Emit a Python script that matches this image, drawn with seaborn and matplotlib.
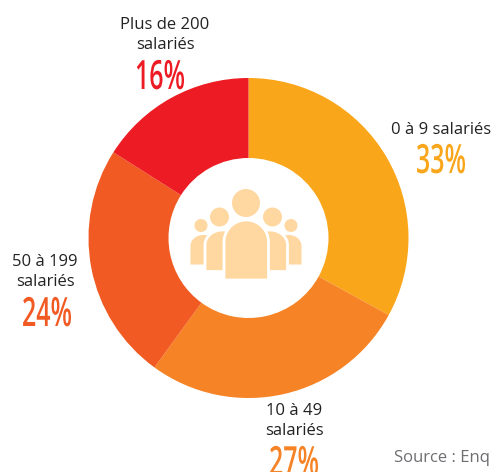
import numpy as np
import seaborn as sns
import matplotlib.pyplot as plt
import matplotlib.patheffects as pe
from matplotlib.patches import Circle, Polygon
from matplotlib.transforms import Affine2D

categories = ["0 à 9\u00a0salariés", "10 à 49\nsalariés", "50 à 199\nsalariés", "Plus de 200\nsalariés"]
shares = [33, 27, 24, 16]
share_labels = ["33%", "27%", "24%", "16%"]
colors = ["#FAA61A", "#F68325", "#F15A22", "#ED1C24"]

sns.set_theme(style="white")
plt.rcParams['font.family'] = ['Open Sans', 'DejaVu Sans']

H = 472
icon_color = "#FFD7A0"

fig = plt.figure(figsize=(4.94, 4.72), dpi=100)
ax = fig.add_axes([0, 0, 1, 1])

# ring, the axes are in pixels of the picture
ax.pie(shares, colors=colors, startangle=90, counterclock=False, radius=160,
       center=(248.5, H - 238), frame=True, wedgeprops=dict(width=80, linewidth=0))
ax.set_xlim(0, 494)
ax.set_ylim(0, H)
ax.set_aspect('equal')
ax.axis('off')


class Squeeze(pe.AbstractPathEffect):
    # no condensed font installed, so narrow the glyphs around the text centre
    def __init__(self, cx, factor):
        super().__init__()
        self.cx = cx
        self.factor = factor

    def draw_path(self, renderer, gc, tpath, affine, rgbFace=None):
        squeeze = Affine2D().translate(-self.cx, 0).scale(self.factor, 1).translate(self.cx, 0)
        renderer.draw_path(gc, tpath, affine + squeeze, rgbFace)


def arch(x0, x1, top, bottom, shoulder):
    # body of a person: straight sides with a half ellipse on top
    t = np.linspace(np.pi, 0, 40)
    cx = (x0 + x1) / 2
    xs = cx + (x1 - x0) / 2 * np.cos(t)
    ys = (top + shoulder) - shoulder * np.sin(t)
    pts = [(x0, H - bottom)] + [(x, H - y) for x, y in zip(xs, ys)] + [(x1, H - bottom)]
    return pts


# people in the hole, back row first
for x0, x1 in [(190.5, 216), (276, 301.5)]:
    ax.add_patch(Polygon(arch(x0, x1, 235, 264.5, 11), fc=icon_color, ec="none", zorder=3))
for x0, x1 in [(205, 240), (252, 287.5)]:
    ax.add_patch(Polygon(arch(x0, x1, 230, 271.5, 15), fc=icon_color, ec="white", lw=2, zorder=4))
ax.add_patch(Polygon(arch(224, 268.5, 220, 280, 22), fc=icon_color, ec="white", lw=2, zorder=5))
for cx, cy, r in [(246, 203, 14), (219.5, 217, 9.5), (272.5, 217, 9.5), (201, 225.5, 6.5), (291, 225.5, 6.5)]:
    ax.add_patch(Circle((cx, H - cy), r, fc=icon_color, ec="none", zorder=6))

# labels
label_pos = [(441, 130), (294, 421), (45, 272), (165, 35)]
pct_pos = [(441, 163), (294, 465), (47, 316), (160, 79)]
for i in range(4):
    ax.text(label_pos[i][0], H - label_pos[i][1], categories[i], ha='center', va='center',
            fontsize=12, color="#222222", linespacing=1.35)
    ax.text(pct_pos[i][0], H - pct_pos[i][1], share_labels[i], ha='center', va='center',
            fontsize=29, color=colors[i], fontweight=600,
            path_effects=[Squeeze(pct_pos[i][0], 0.62)])

ax.text(394, H - 458, "Source : Enq", ha='left', va='center', fontsize=12, color="#6D6E71")

fig.savefig("out.png", dpi=100)
